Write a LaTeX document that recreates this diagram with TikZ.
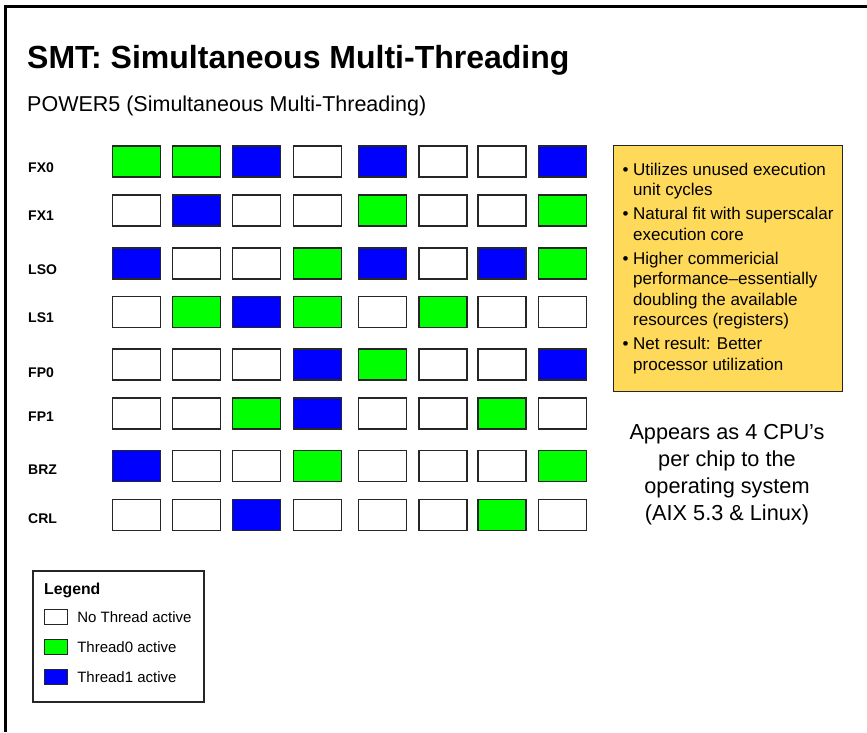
\documentclass[tikz,border=0pt]{standalone}
\usepackage{fontspec}
\setmainfont{Liberation Sans}
\usetikzlibrary{positioning}
\definecolor{threadzero}{RGB}{0,255,0}
\definecolor{threadone}{RGB}{0,0,255}
\definecolor{noteyellow}{RGB}{255,217,90}

\begin{document}
\begin{tikzpicture}[x=1pt, y=-1pt, inner sep=0pt]
    \tikzstyle{cell idle} = [rectangle,draw=black!85,fill=white,line width=1.3pt,minimum width=48pt,minimum height=31pt]
    \tikzstyle{cell t0} = [cell idle, fill=threadzero]
    \tikzstyle{cell t1} = [cell idle, fill=threadone]
    \tikzstyle{swatch idle} = [cell idle, line width=1.2pt, minimum width=23pt, minimum height=15pt]
    \tikzstyle{swatch t0} = [swatch idle, fill=threadzero]
    \tikzstyle{swatch t1} = [swatch idle, fill=threadone]
    \tikzstyle{unit label} = [anchor=west, font=\bfseries\fontsize{14}{16}\selectfont]
    \tikzstyle{legend text} = [anchor=west, font=\fontsize{15}{17}\selectfont]
    \tikzstyle{notes} = [draw=black!85, line width=1.5pt, fill=noteyellow, minimum width=229pt, minimum height=246pt, align=left, font=\fontsize{17}{20.5}\selectfont]
\useasboundingbox (0,0) rectangle (867,732);
\draw[line width=3pt] (867,6.5) -- (5.5,6.5) -- (5.5,732);
\node[anchor=base west, font=\bfseries\fontsize{32}{38}\selectfont] (title) at (27,68) {SMT: Simultaneous Multi-Threading};
\node[anchor=base west, font=\fontsize{21.5}{26}\selectfont] (subtitle) at (27,111) {POWER5 (Simultaneous Multi-Threading)};
% execution units, one row per unit
\foreach \row/\yc/\ly/\pat in {
    FX0/161.5/168/{t0,t0,t1,idle,t1,idle,idle,t1},
    FX1/210.5/216/{idle,t1,idle,idle,t0,idle,idle,t0},
    LSO/263.5/270/{t1,idle,idle,t0,t1,idle,t1,t0},
    LS1/312/318/{idle,t0,t1,t0,idle,t0,idle,idle},
    FP0/364.5/373/{idle,idle,idle,t1,t0,idle,idle,t1},
    FP1/413.5/417/{idle,idle,t0,t1,idle,idle,t0,idle},
    BRZ/466/470/{t1,idle,idle,t0,idle,idle,idle,t0},
    CRL/515/519/{idle,idle,t1,idle,idle,idle,t0,idle}}
{
    \node[unit label] (lbl-\row) at (28,\ly) {\row};
    \foreach \s [count=\i] in \pat {
        \pgfmathsetmacro\xc{{136.5,196.5,256.5,317.5,382.5,443,502,562.5}[\i-1]}
        \node[cell \s] (\row-\i) at (\xc,\yc) {};
    }
}
\node[notes] (notes) at (728,268.5) {%
\textbullet\ Utilizes unused execution\\
\phantom{\textbullet\ }unit cycles\\[3.5pt]
\textbullet\ Natural fit with superscalar\\
\phantom{\textbullet\ }execution core\\[3.5pt]
\textbullet\ Higher commericial\\
\phantom{\textbullet\ }performance–essentially\\
\phantom{\textbullet\ }doubling the available\\
\phantom{\textbullet\ }resources (registers)\\[3.5pt]
\textbullet\ Net result: Better\\
\phantom{\textbullet\ }processor utilization};
\node[align=center, font=\fontsize{21.7}{27}\selectfont] (osnote) at (727,474.5) {Appears as 4 CPU’s\\per chip to the\\operating system\\(AIX 5.3 \& Linux)};
% legend
\node[draw=black!85, line width=1.5pt, minimum width=171pt, minimum height=131pt] (legend) at (118.5,636.5) {};
\node[anchor=west, font=\bfseries\fontsize{15.8}{18}\selectfont] (legend title) at (44,590) {Legend};
\node[swatch idle] (sw0) at (56,617) {};
\node[swatch t0, below=13.8pt of sw0] (sw1) {};
\node[swatch t1, below=13.8pt of sw1] (sw2) {};
\node[legend text, right=9pt of sw0] (txt0) {No Thread active};
\node[legend text, right=9pt of sw1] (txt1) {Thread0 active};
\node[legend text, right=9pt of sw2] (txt2) {Thread1 active};
\end{tikzpicture}
\end{document}
